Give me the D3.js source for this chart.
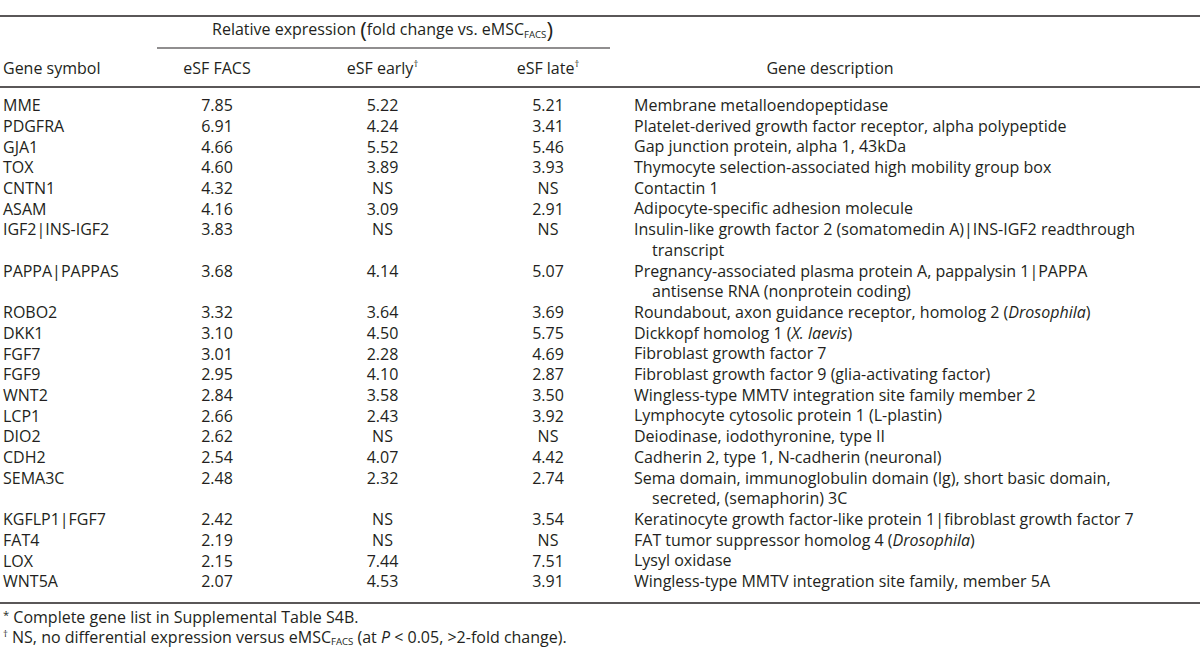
<!DOCTYPE html>
<html><head><meta charset="utf-8">
<script src="https://cdn.jsdelivr.net/npm/d3@7"></script>
<style>
html,body{margin:0;padding:0;background:#fff;}
svg text{font-family:"Open Sans","DejaVu Sans",sans-serif;fill:#231f20;}
</style></head>
<body><svg id="c" width="1200" height="665"></svg>
<script>
// ---------- data ----------
const geneSymbols = ["MME","PDGFRA","GJA1","TOX","CNTN1","ASAM","IGF2|INS-IGF2","PAPPA|PAPPAS","ROBO2","DKK1","FGF7","FGF9","WNT2","LCP1","DIO2","CDH2","SEMA3C","KGFLP1|FGF7","FAT4","LOX","WNT5A"];
const eSFFACS  = [7.85,6.91,4.66,4.60,4.32,4.16,3.83,3.68,3.32,3.10,3.01,2.95,2.84,2.66,2.62,2.54,2.48,2.42,2.19,2.15,2.07];
const eSFEarly = [5.22,4.24,5.52,3.89,null,3.09,null,4.14,3.64,4.50,2.28,4.10,3.58,2.43,null,4.07,2.32,null,null,7.44,4.53];
const eSFLate  = [5.21,3.41,5.46,3.93,null,2.91,null,5.07,3.69,5.75,4.69,2.87,3.50,3.92,null,4.42,2.74,3.54,null,7.51,3.91];
// description lines; _text_ marks italic
const descriptions = [
  ["Membrane metalloendopeptidase"],
  ["Platelet-derived growth factor receptor, alpha polypeptide"],
  ["Gap junction protein, alpha 1, 43kDa"],
  ["Thymocyte selection-associated high mobility group box"],
  ["Contactin 1"],
  ["Adipocyte-specific adhesion molecule"],
  ["Insulin-like growth factor 2 (somatomedin A)|INS-IGF2 readthrough","transcript"],
  ["Pregnancy-associated plasma protein A, pappalysin 1|PAPPA","antisense RNA (nonprotein coding)"],
  ["Roundabout, axon guidance receptor, homolog 2 (_Drosophila_)"],
  ["Dickkopf homolog 1 (_X. laevis_)"],
  ["Fibroblast growth factor 7"],
  ["Fibroblast growth factor 9 (glia-activating factor)"],
  ["Wingless-type MMTV integration site family member 2"],
  ["Lymphocyte cytosolic protein 1 (L-plastin)"],
  ["Deiodinase, iodothyronine, type II"],
  ["Cadherin 2, type 1, N-cadherin (neuronal)"],
  ["Sema domain, immunoglobulin domain (Ig), short basic domain,","secreted, (semaphorin) 3C"],
  ["Keratinocyte growth factor-like protein 1|fibroblast growth factor 7"],
  ["FAT tumor suppressor homolog 4 (_Drosophila_)"],
  ["Lysyl oxidase"],
  ["Wingless-type MMTV integration site family, member 5A"]
];
const valueColumns = ["eSF FACS","eSF early","eSF late"];
const columnDagger = [false,true,true];

// ---------- layout ----------
const svg = d3.select("#c");
const W = 1200;
const fs = 16;

// line index of each row (rows may wrap onto several lines)
const lineStart = [];
{ let a = 0; descriptions.forEach(d => { lineStart.push(a); a += d.length; }); }
const nLines = lineStart[lineStart.length-1] + 1;

const y = d3.scaleLinear().domain([0, nLines-1]).range([107, 583]);
const xCol = d3.scalePoint().domain(valueColumns).range([217, 548]);
const fmt = d3.format(".2f");

// rules
const rule = (x1,x2,yy,w) => svg.append("line").attr("x1",x1).attr("x2",x2).attr("y1",yy).attr("y2",yy)
  .attr("stroke","#231f20").attr("stroke-width",w);
rule(0, W, 16, 1.6);
rule(157, 610, 48, 1.2);
rule(0, W, 87, 1.6);
const yBottom = y(nLines-1) + 20;
rule(0, W, yBottom, 1.6);

// group header
const gh = svg.append("text").attr("x", xCol("eSF early")).attr("y", 31).attr("text-anchor","middle")
  .attr("dominant-baseline","middle").attr("font-size", fs);
gh.append("tspan").text("Relative expression ");
gh.append("tspan").attr("font-size", fs*1.4).attr("dy", 1).text("(");
gh.append("tspan").attr("dy", -1).text("fold change vs. eMSC");
gh.append("tspan").attr("font-size", fs*0.6).attr("dy", 4).text("FACS");
gh.append("tspan").attr("font-size", fs*1.4).attr("dy", -3).text(")");

// column headers
const hy = 70;
svg.append("text").attr("x", 3).attr("y", hy).attr("dominant-baseline","middle").attr("font-size", fs).text("Gene symbol");
valueColumns.forEach((c,i) => {
  const t = svg.append("text").attr("x", xCol(c)).attr("y", hy).attr("text-anchor","middle")
    .attr("dominant-baseline","middle").attr("font-size", fs);
  t.append("tspan").text(c);
  if (columnDagger[i]) t.append("tspan").attr("font-size", fs*0.6).attr("dy", -6).text("\u2020");
});
svg.append("text").attr("x", 830).attr("y", hy).attr("text-anchor","middle")
  .attr("dominant-baseline","middle").attr("font-size", fs).text("Gene description");

// body rows
const rows = geneSymbols.map((g,i) => ({g, v:[eSFFACS[i], eSFEarly[i], eSFLate[i]], d:descriptions[i], l:lineStart[i]}));
const rg = svg.selectAll("g.row").data(rows).join("g").attr("class","row");
rg.append("text").attr("x", 3).attr("y", d => y(d.l)).attr("dominant-baseline","middle").attr("font-size", fs).text(d => d.g);
valueColumns.forEach((c,ci) => {
  rg.append("text").attr("x", xCol(c)).attr("y", d => y(d.l)).attr("text-anchor","middle")
    .attr("dominant-baseline","middle").attr("font-size", fs)
    .text(d => d.v[ci] == null ? "NS" : fmt(d.v[ci]));
});
rg.each(function(d){
  const g = d3.select(this);
  d.d.forEach((line, li) => {
    const t = g.append("text").attr("x", li === 0 ? 634 : 652).attr("y", y(d.l + li))
      .attr("dominant-baseline","middle").attr("font-size", fs);
    line.split("_").forEach((part, pi) => {
      if (part.length) t.append("tspan").attr("font-style", pi % 2 ? "italic" : null).text(part);
    });
  });
});

// footnotes
const fy1 = yBottom + 16, fy2 = fy1 + 20;
const f1 = svg.append("text").attr("x", 3).attr("y", fy1).attr("dominant-baseline","middle").attr("font-size", fs);
f1.append("tspan").attr("font-size", fs*0.7).attr("dy", -3).text("*");
f1.append("tspan").attr("dy", 3).text(" Complete gene list in Supplemental Table S4B.");
const f2 = svg.append("text").attr("x", 3).attr("y", fy2).attr("dominant-baseline","middle").attr("font-size", fs);
f2.append("tspan").attr("font-size", fs*0.6).attr("dy", -5).text("\u2020");
f2.append("tspan").attr("dy", 5).text(" NS, no differential expression versus eMSC");
f2.append("tspan").attr("font-size", fs*0.6).attr("dy", 3).text("FACS");
f2.append("tspan").attr("dy", -3).text(" (at ");
f2.append("tspan").attr("font-style","italic").text("P");
f2.append("tspan").text(" < 0.05, >2-fold change).");
</script></body></html>
